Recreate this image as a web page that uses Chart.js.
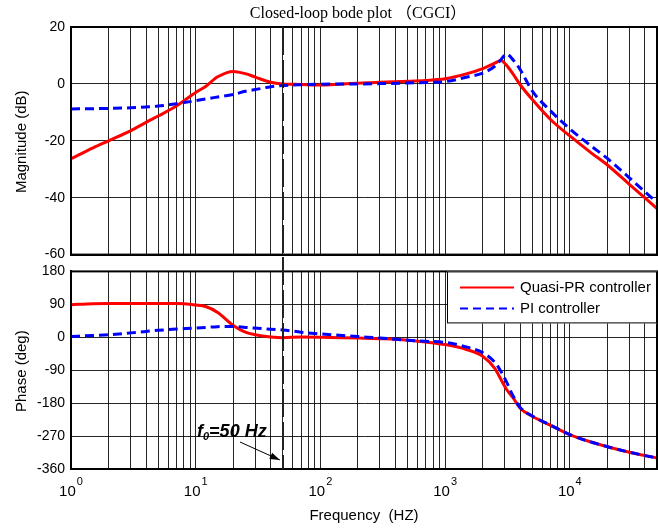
<!DOCTYPE html>
<html><head><meta charset="utf-8">
<script src="https://cdn.jsdelivr.net/npm/chart.js@4.4.0/dist/chart.umd.min.js"></script>
<style>
html,body{margin:0;padding:0;background:#fff;width:658px;height:529px;overflow:hidden}
#magChart{position:absolute;left:0;top:0}
#phaseChart{position:absolute;left:0;top:257px}
</style></head><body>
<canvas id="magChart" width="658" height="269"></canvas>
<canvas id="phaseChart" width="658" height="272"></canvas>
<script>
// ---- data ----
const freqs = [1,1.5,2,3,4,5,7,10,12,15,20,25,30,40,50,70,100,150,200,300,500,700,1000,1500,2000,2500,2800,3100,3500,4000,5000,7000,10000,15000,20000,30000,50000];
const magQuasiPR = [-26.3,-22.5,-20,-16.5,-13.5,-11.3,-7.8,-3,-0.9,2.5,4.4,3.6,2.4,0.6,0,-0.2,-0.4,0,0.2,0.6,0.9,1.2,1.8,3.6,5.4,7.3,8.2,6.6,3.5,-0.3,-5.5,-12.5,-18.3,-24.4,-28.5,-35.3,-43.8];
const magPI = [-8.8,-8.7,-8.6,-8.4,-8.1,-7.8,-7.0,-5.9,-5.3,-4.6,-3.7,-2.6,-2.0,-1.0,-0.6,-0.3,-0.1,0,0,0.1,0.3,0.5,0.8,2.4,3.8,6.2,8.5,10.5,8.5,5,-2.5,-9.5,-15.8,-22.0,-26.2,-33.0,-41.7];
const phaseQuasiPR = [89,91.5,92,92,92,92,92,88,84,68,32,14,7,1,-1,0.5,0,-1,-2,-4,-8,-13,-20,-34,-52,-85,-115,-142,-165,-194,-216,-241,-266,-287,-299,-314,-330];
const phasePI = [2,5,7,12,16,19,22.5,25,27,29,29.5,27,25,22,20,14,9,5,2,-2,-8,-11,-14,-27,-42,-68,-93,-121,-160,-192,-215,-240,-266,-287,-299,-314,-330];
const seriesNames = ['Quasi-PR controller','PI controller'];
const magRange = [-60, 20], magStep = 20;
const phaseRange = [-360, 180], phaseStep = 90;
const freqRange = [1, 50000];
const decadeExponents = [0,1,2,3,4];
const markerFreq = 50;
const titleText = 'Closed-loop bode plot \uFF08CGCI\uFF09';
const magTitle = 'Magnitude (dB)';
const phaseTitle = 'Phase (deg)';
const xTitle = 'Frequency  (HZ)';

const SANS = "'Liberation Sans', Arial, sans-serif";
Chart.defaults.font.family = SANS;
Chart.defaults.font.size = 14;
Chart.defaults.color = '#000';

function gridTicks() {
  const t = [];
  for (let e = 0; e <= 4; e++) for (let m = 1; m <= 9; m++) {
    const v = m * Math.pow(10, e);
    if (v <= freqRange[1]) t.push({value: v});
  }
  return t;
}

function pts(vals) { return freqs.map((f, i) => ({x: f, y: vals[i]})); }

function makeDatasets(redVals, blueVals) {
  return [
    {label: seriesNames[0], data: pts(redVals), borderColor: 'rgb(255,0,0)', borderWidth: 3,
     pointRadius: 0, cubicInterpolationMode: 'monotone', order: 2, fill: false},
    {label: seriesNames[1], data: pts(blueVals), borderColor: 'rgb(0,0,255)', borderWidth: 3,
     borderDash: [9, 5], pointRadius: 0, cubicInterpolationMode: 'monotone', order: 1, fill: false}
  ];
}

function xScale(height) {
  return {
    type: 'logarithmic', min: freqRange[0], max: freqRange[1],
    afterBuildTicks: s => { s.ticks = gridTicks(); },
    ticks: {display: false, autoSkip: false},
    grid: {color: 'rgba(0,0,0,0.85)', lineWidth: 1, drawTicks: false},
    border: {display: true, color: '#000', width: 2},
    afterFit: s => { s.height = height; }
  };
}
function yScale(range, step) {
  return {
    min: range[0], max: range[1],
    ticks: {stepSize: step, padding: 6, font: {size: 14}, color: '#000'},
    grid: {color: 'rgba(0,0,0,0.85)', lineWidth: 1, drawTicks: false},
    border: {display: true, color: '#000', width: 2},
    afterFit: s => { s.width = 71; }
  };
}

function drawFrame(chart) {
  const ctx = chart.ctx, a = chart.chartArea;
  ctx.save();
  ctx.strokeStyle = '#000'; ctx.lineWidth = 2;
  ctx.strokeRect(a.left, a.top, a.right - a.left, a.bottom - a.top);
  ctx.restore();
}
function drawMarker(chart, y0, y1) {
  const ctx = chart.ctx;
  const x = Math.round(chart.scales.x.getPixelForValue(markerFreq));
  ctx.save();
  ctx.strokeStyle = '#222'; ctx.lineWidth = 2; ctx.setLineDash([28, 5]);
  ctx.beginPath(); ctx.moveTo(x, y0); ctx.lineTo(x, y1); ctx.stroke();
  ctx.restore();
}
function drawRotated(ctx, text, x, y, font) {
  ctx.save();
  ctx.translate(x, y); ctx.rotate(-Math.PI / 2);
  ctx.font = font; ctx.fillStyle = '#000';
  ctx.textAlign = 'center'; ctx.textBaseline = 'middle';
  ctx.fillText(text, 0, 0);
  ctx.restore();
}

const magPlugin = {
  id: 'magDecor',
  afterDraw(chart) {
    const ctx = chart.ctx, a = chart.chartArea;
    drawFrame(chart);
    drawMarker(chart, a.top, chart.height);
    ctx.save();
    ctx.font = "16px 'Liberation Serif', 'Noto Sans CJK SC', serif";
    ctx.fillStyle = '#000'; ctx.textAlign = 'center'; ctx.textBaseline = 'alphabetic';
    ctx.fillText(titleText, 358, 18);
    ctx.restore();
    drawRotated(ctx, magTitle, 22, (a.top + a.bottom) / 2 + 1, '15px ' + SANS);
  }
};

const phasePlugin = {
  id: 'phaseDecor',
  afterDraw(chart) {
    const ctx = chart.ctx, a = chart.chartArea, xs = chart.scales.x;
    drawFrame(chart);
    drawMarker(chart, 0, a.bottom);
    // x tick labels 10^n
    ctx.save();
    ctx.fillStyle = '#000'; ctx.textBaseline = 'alphabetic'; ctx.textAlign = 'left';
    decadeExponents.forEach(e => {
      const px = xs.getPixelForValue(Math.pow(10, e));
      ctx.font = '15px ' + SANS;
      const w1 = ctx.measureText('10').width;
      ctx.font = '11px ' + SANS;
      const w2 = ctx.measureText(String(e)).width;
      const start = px - (w1 + w2 + 1) / 2;
      ctx.font = '15px ' + SANS;
      ctx.fillText('10', start, a.bottom + 27);
      ctx.font = '11px ' + SANS;
      ctx.fillText(String(e), start + w1 + 1, a.bottom + 16);
    });
    // x title
    ctx.font = '15px ' + SANS; ctx.textAlign = 'center'; ctx.textBaseline = 'middle';
    ctx.fillText(xTitle, (a.left + a.right) / 2, a.bottom + 47);
    ctx.restore();
    drawRotated(ctx, phaseTitle, 22, (a.top + a.bottom) / 2 + 1, '15px ' + SANS);
    // legend
    ctx.save();
    const lx = 447, ly = a.top, lw = a.right - lx, lh = 52;
    ctx.fillStyle = '#fff'; ctx.fillRect(lx, ly, lw, lh);
    ctx.strokeStyle = '#000'; ctx.lineWidth = 1; ctx.strokeRect(lx + 0.5, ly + 0.5, lw - 1, lh - 1);
    ctx.lineWidth = 2;
    const r1 = ly + 16, r2 = ly + 37;
    ctx.strokeStyle = 'rgb(255,0,0)'; ctx.beginPath(); ctx.moveTo(460, r1); ctx.lineTo(514, r1); ctx.stroke();
    ctx.strokeStyle = 'rgb(0,0,255)'; ctx.setLineDash([8, 5]); ctx.beginPath(); ctx.moveTo(460, r2); ctx.lineTo(514, r2); ctx.stroke();
    ctx.setLineDash([]);
    ctx.fillStyle = '#000'; ctx.font = '15px ' + SANS; ctx.textAlign = 'left'; ctx.textBaseline = 'middle';
    ctx.fillText(seriesNames[0], 520, r1);
    ctx.fillText(seriesNames[1], 520, r2);
    ctx.restore();
    // annotation f0=50 Hz
    ctx.save();
    ctx.fillStyle = '#000'; ctx.textBaseline = 'alphabetic'; ctx.textAlign = 'left';
    let x = 197; const by = a.bottom - 32;
    ctx.font = 'italic bold 18px ' + SANS; ctx.fillText('f', x, by); x += ctx.measureText('f').width;
    ctx.font = 'italic bold 11px ' + SANS; ctx.fillText('0', x, by + 3); x += ctx.measureText('0').width;
    ctx.font = 'italic bold 18px ' + SANS; ctx.fillText('=50 Hz', x, by);
    // arrow
    const ax0 = 240, ay0 = a.bottom - 27, ax1 = xs.getPixelForValue(markerFreq) - 3, ay1 = a.bottom - 9;
    ctx.strokeStyle = '#000'; ctx.lineWidth = 1;
    ctx.beginPath(); ctx.moveTo(ax0, ay0); ctx.lineTo(ax1, ay1); ctx.stroke();
    const ang = Math.atan2(ay1 - ay0, ax1 - ax0), L = 10, W = 3.5;
    ctx.beginPath();
    ctx.moveTo(ax1, ay1);
    ctx.lineTo(ax1 - L * Math.cos(ang) + W * Math.sin(ang), ay1 - L * Math.sin(ang) - W * Math.cos(ang));
    ctx.lineTo(ax1 - L * Math.cos(ang) - W * Math.sin(ang), ay1 - L * Math.sin(ang) + W * Math.cos(ang));
    ctx.closePath(); ctx.fill();
    ctx.restore();
  }
};

const common = {responsive: false, animation: false, devicePixelRatio: 1,
  plugins: {legend: {display: false}, tooltip: {enabled: false}, title: {display: false}}};

new Chart(document.getElementById('magChart'), {
  type: 'line',
  data: {datasets: makeDatasets(magQuasiPR, magPI)},
  options: Object.assign({}, common, {
    layout: {padding: {top: 27, right: 1, left: 0, bottom: 0}},
    scales: {x: xScale(8), y: yScale(magRange, magStep)}
  }),
  plugins: [magPlugin]
});
new Chart(document.getElementById('phaseChart'), {
  type: 'line',
  data: {datasets: makeDatasets(phaseQuasiPR, phasePI)},
  options: Object.assign({}, common, {
    layout: {padding: {top: 9, right: 1, left: 0, bottom: 0}},
    scales: {x: xScale(60), y: yScale(phaseRange, phaseStep)}
  }),
  plugins: [phasePlugin]
});
</script>
</body></html>
